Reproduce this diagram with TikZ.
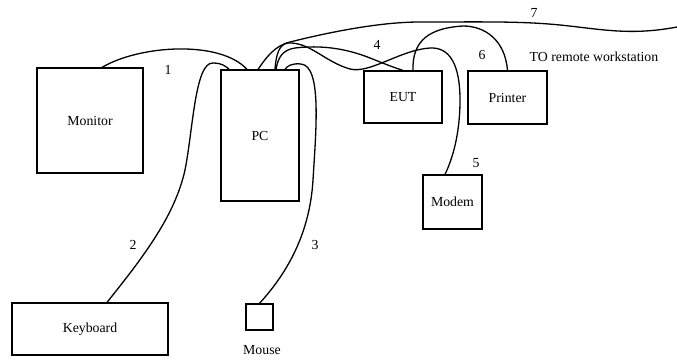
\documentclass[tikz,border=0pt]{standalone}
\usepackage{fontspec}
\setmainfont{Liberation Serif}
\begin{document}
\begin{tikzpicture}[x=1pt,y=-1pt,
  every node/.style={font=\fontsize{13.8}{16}\selectfont},
  unit/.style={draw,line width=1.3pt,inner sep=0pt,rectangle},
  cable/.style={line width=1.3pt},
  lbl/.style={inner sep=0pt}]
\useasboundingbox (0,0) rectangle (677,361);
% devices
\node[unit,minimum width=106pt,minimum height=105pt] (monitor) at (90,120.5) {Monitor};
\node[unit,minimum width=78pt,minimum height=131pt] (pc) at (260,135.5) {PC};
\node[unit,minimum width=156pt,minimum height=52pt] (keyboard) at (90,329) {Keyboard};
\node[unit,minimum width=27pt,minimum height=26pt] (mouse) at (259.5,317) {};
\node[lbl] (mouselbl) at (262,350) {Mouse};
\node[unit,minimum width=78pt,minimum height=52pt] (eut) at (403,97) {EUT};
\node[unit,minimum width=79pt,minimum height=53pt] (printer) at (507.5,97.5) {Printer};
\node[unit,minimum width=59pt,minimum height=54pt] (modem) at (452.5,202) {Modem};
\coordinate (remote) at (677,27);
% cable labels
\node[lbl] (l1) at (168,70) {1};
\node[lbl] (l2) at (133,245) {2};
\node[lbl] (l3) at (315,245) {3};
\node[lbl] (l4) at (377,45) {4};
\node[lbl] (l5) at (476,163) {5};
\node[lbl] (l6) at (482,55) {6};
\node[lbl] (l7) at (534,13) {7};
\node[lbl] (tolbl) at (594,57) {TO remote workstation};
% cable 1: monitor - PC
\draw[cable] ([xshift=12pt]monitor.north) .. controls (140,45) and (220,40) .. ([xshift=-13pt]pc.north);
% cable 2: keyboard - PC
\draw[cable] ([xshift=17pt]keyboard.north) .. controls (145,255) and (175,215) .. (185,170)
  .. controls (193,130) and (195,62) .. (213,63) .. controls (222,63) and (227,67) .. ([xshift=-31pt]pc.north);
% cable 3: mouse - PC
\draw[cable] (mouse.north) .. controls (290,270) and (310,230) .. (313,180)
  .. controls (316,130) and (322,66) .. (301,64) .. controls (292,63) and (287,66) .. ([xshift=25pt]pc.north);
% cable 7: PC - remote workstation
\draw[cable] ([xshift=-2pt]pc.north) .. controls (266,58) and (274,46) .. (290,42)
  .. controls (330,32) and (380,22) .. (420,22) .. controls (480,22) and (520,21) .. (560,25)
  .. controls (600,29) and (630,36) .. (remote);
% cable 5: PC - modem
\draw[cable] ([xshift=15pt]pc.north) .. controls (276,55) and (279,44) .. (288,43)
  .. controls (310,42) and (325,62) .. (350,69) .. controls (370,74) and (400,50) .. (430,48)
  .. controls (450,47) and (460,65) .. (460,100) .. controls (460,135) and (452,160) .. ([xshift=-7.5pt]modem.north);
% cable 4: PC - EUT
\draw[cable] ([xshift=16pt]pc.north) .. controls (278,58) and (282,50) .. (295,48)
  .. controls (320,45) and (345,48) .. (370,58) .. controls (385,64) and (395,68) .. (eut.north);
% cable 6: EUT - printer
\draw[cable] ([xshift=10pt]eut.north) .. controls (412,40) and (430,28) .. (463,26)
  .. controls (485,26) and (505,40) .. (printer.north);
\end{tikzpicture}
\end{document}
